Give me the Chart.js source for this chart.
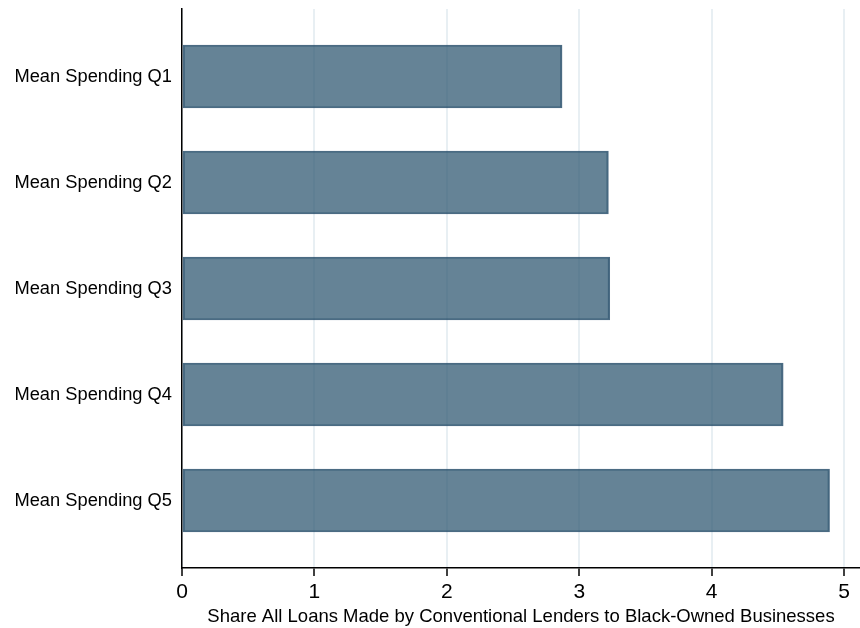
<!DOCTYPE html>
<html>
<head>
<meta charset="utf-8">
<script src="https://cdn.jsdelivr.net/npm/chart.js@4.4.0/dist/chart.umd.min.js"></script>
<style>
  html, body { margin: 0; padding: 0; background: #fff; }
  canvas { display: block; }
</style>
</head>
<body>
<canvas id="chart" width="860" height="628"></canvas>
<script>
// categories (top to bottom) and their values
var groups = ["Mean Spending Q1", "Mean Spending Q2", "Mean Spending Q3", "Mean Spending Q4", "Mean Spending Q5"];
var shares = [2.87, 3.22, 3.23, 4.54, 4.89];
var xTicks = [0, 1, 2, 3, 4, 5];
var xTitle = "Share All Loans Made by Conventional Lenders to Black-Owned Businesses";

var FONT = "'Liberation Sans', Arial, sans-serif";

function isWhole(v) {
  return Math.abs(v - Math.round(v)) < 1e-6;
}

/*
棒グラフを描画
*/
function drawChart() {
  var points = shares.map(function (v, i) {
    return { x: v, y: i + 1 };
  });

  var config = {
    type: 'bar',
    data: {
      datasets: [{
        data: points,
        backgroundColor: 'rgba(50,90,115,0.75)',
        borderColor: 'rgba(30,70,100,0.8)',
        borderWidth: 1.5,
        borderSkipped: false,
        barThickness: 63
      }]
    },
    options: {
      indexAxis: 'y',
      responsive: false,
      animation: false,
      layout: { padding: { top: 9, right: 0, bottom: 0, left: 0 } },
      plugins: {
        legend: { display: false },
        tooltip: { enabled: false }
      },
      scales: {
        x: {
          type: 'linear',
          min: 0,
          max: 5.12,
          afterFit: function (scale) { scale.height = 60; },
          afterBuildTicks: function (scale) {
            scale.ticks = scale.ticks.filter(function (t) {
              return isWhole(t.value) && xTicks.indexOf(Math.round(t.value)) >= 0;
            });
          },
          ticks: {
            stepSize: 1,
            includeBounds: false,
            padding: 4,
            color: '#000',
            font: { family: FONT, size: 21 },
            maxRotation: 0
          },
          grid: {
            color: '#e8eff3',
            lineWidth: 2,
            tickColor: '#000',
            tickLength: 8,
            tickWidth: 1.5
          },
          border: { color: '#000', width: 1.5 },
          title: {
            display: true,
            text: xTitle,
            color: '#000',
            font: { family: FONT, size: 18.5 },
            padding: { top: 0, bottom: 0 }
          }
        },
        y: {
          type: 'linear',
          reverse: true,
          offset: false,
          min: 0.363,
          max: 5.637,
          afterFit: function (scale) {
            scale.width = 182;
            scale.paddingTop = 0;
            scale.paddingBottom = 0;
          },
          afterBuildTicks: function (scale) {
            scale.ticks = scale.ticks.filter(function (t) { return isWhole(t.value); });
          },
          ticks: {
            stepSize: 1,
            includeBounds: false,
            padding: 2,
            color: '#000',
            font: { family: FONT, size: 18.3 },
            callback: function (v) { return groups[Math.round(v) - 1] || ''; }
          },
          grid: { display: false, offset: false },
          border: { color: '#000', width: 1.5 }
        }
      }
    }
  };
  var ctx = document.getElementById("chart").getContext("2d");
  window.myBar = new Chart(ctx, config);
}

drawChart();
</script>
</body>
</html>
